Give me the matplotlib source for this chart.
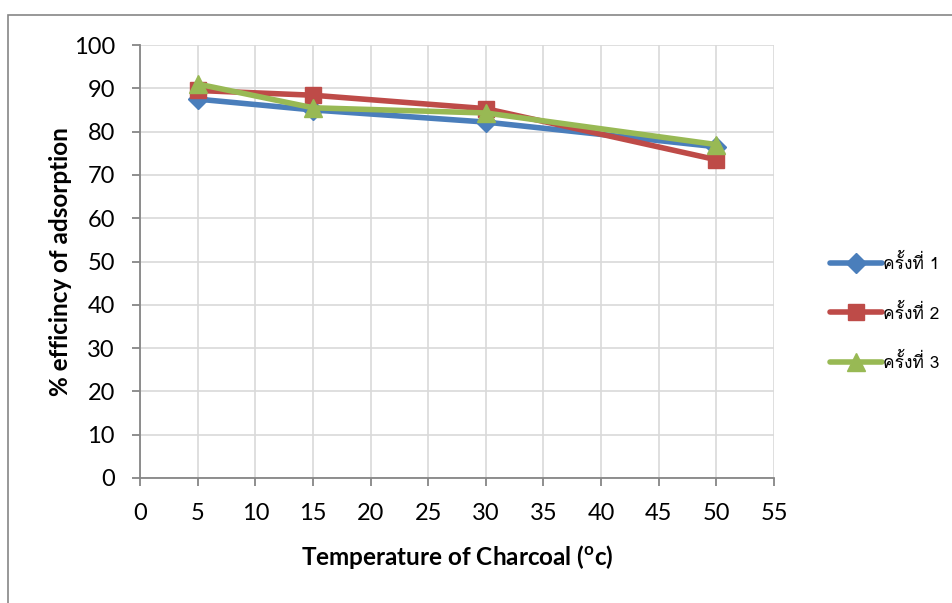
import matplotlib
matplotlib.use("Agg")
import matplotlib.pyplot as plt
from matplotlib import font_manager
from matplotlib.ft2font import FT2Font
from matplotlib.patches import Rectangle

temperature = [5, 15, 30, 50]
run1 = [87.5, 85.0, 82.2, 76.5]
run2 = [89.5, 88.4, 85.3, 73.5]
run3 = [91.0, 85.5, 84.3, 77.0]
series_names = ["ครั้งที่ 1", "ครั้งที่ 2", "ครั้งที่ 3"]
x_ticks = list(range(0, 56, 5))
y_ticks = list(range(0, 101, 10))
x_label = "Temperature of Charcoal ($^{\\mathbf{o}}$c)"
y_label = "% efficincy of adsorption"

# find a font with Thai glyphs
thai_font = None
for f in font_manager.fontManager.ttflist:
    try:
        ft = FT2Font(f.fname)
        if 0x0E04 in ft.get_charmap():
            thai_font = f.name
            break
    except Exception:
        pass

plt.rcParams['mathtext.fontset'] = 'custom'
plt.rcParams['mathtext.rm'] = 'Lato'
plt.rcParams['mathtext.bf'] = 'Lato:bold'

fig = plt.figure(figsize=(9.53, 6.03), dpi=100)
ax = fig.add_axes([140/953, 1-478/603, (774-140)/953, (478-45)/603])

colors = ["#4a7ebb", "#be4b48", "#98b954"]
markers = ["D", "s", "^"]
msizes = [10, 12, 13]
for vals, c, m, ms, name in zip([run1, run2, run3], colors, markers, msizes, series_names):
    ax.plot(temperature, vals, color=c, lw=4, marker=m, ms=ms, mec=c, mfc=c, label=name,
            solid_capstyle='round', solid_joinstyle='round')

ax.set_xlim(0, 55)
ax.set_ylim(0, 100)
ax.set_xticks(x_ticks)
ax.set_yticks(y_ticks)
ax.grid(True, color="#d9d9d9", lw=1.2)
ax.set_axisbelow(True)
for s in ["top", "right"]:
    ax.spines[s].set_visible(False)
for s in ["left", "bottom"]:
    ax.spines[s].set_color("#868686")
    ax.spines[s].set_linewidth(1.3)
ax.tick_params(axis='both', direction='out', length=6, color="#868686", width=1.3,
               labelsize=17, pad=12)
for lab in ax.get_xticklabels() + ax.get_yticklabels():
    lab.set_family(['Lato', 'DejaVu Sans'])

ax.set_xlabel(x_label, fontsize=17.5, fontweight='bold', family=['Lato', 'DejaVu Sans'], labelpad=14)
ax.set_ylabel(y_label, fontsize=17.5, fontweight='bold', family=['Lato', 'DejaVu Sans'], labelpad=1)

fams = ([thai_font] if thai_font else []) + ['DejaVu Sans']
leg = ax.legend(loc='center left', bbox_to_anchor=(1.063, 0.381), frameon=False,
                prop={'family': fams, 'size': 12.5}, handlelength=3.0, handletextpad=0.1,
                labelspacing=1.75)

fig.patches.append(Rectangle((8/953, -0.1), 1.2, 1 - 15/603 + 0.1, transform=fig.transFigure,
                             fill=False, edgecolor="#868686", lw=1.2, figure=fig))

fig.savefig("out.png", dpi=100)
